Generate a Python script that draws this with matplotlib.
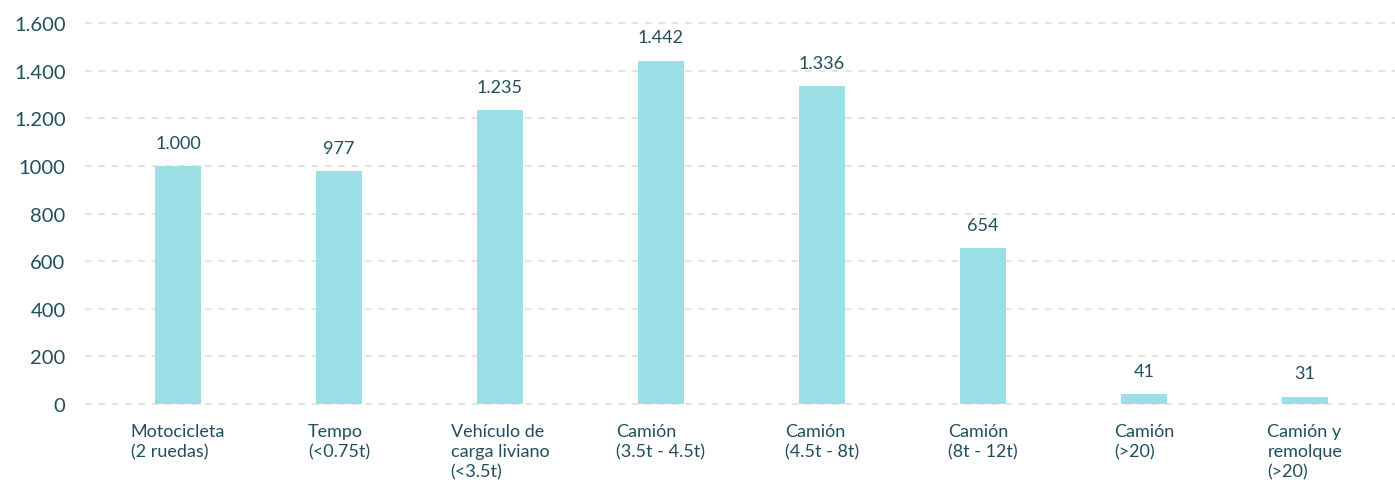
import matplotlib
matplotlib.use("Agg")
import matplotlib.pyplot as plt

categories = ["Motocicleta\n(2 ruedas)", "Tempo\n(<0.75t)", "Vehículo de\ncarga liviano\n(<3.5t)",
              "Camión\n(3.5t - 4.5t)", "Camión\n(4.5t - 8t)", "Camión\n(8t - 12t)",
              "Camión\n(>20)", "Camión y\nremolque\n(>20)"]
values = [1000, 977, 1235, 1442, 1336, 654, 41, 31]
value_labels = ["1.000", "977", "1.235", "1.442", "1.336", "654", "41", "31"]
yticks = [0, 200, 400, 600, 800, 1000, 1200, 1400, 1600]
ytick_labels = ["0", "200", "400", "600", "800", "1000", "1.200", "1.400", "1.600"]

plt.rcParams['font.family'] = ['Lato', 'DejaVu Sans']
TXT = "#1f4f5c"
BAR = "#9bdfe6"
GRID = "#e2dfda"

fig = plt.figure(figsize=(13.95, 4.81), dpi=100)
ax = fig.add_axes([85/1395, 1-407.4/481, 1-85/1395, (407.4-21.6)/481])

x = list(range(len(values)))
ax.bar(x, values, width=0.29, color=BAR, zorder=2)
for xi, v, lab in zip(x, values, value_labels):
    ax.annotate(lab, (xi, v), xytext=(0, 11), textcoords="offset points",
                ha="center", va="bottom", fontsize=13, color=TXT)

ax.set_xlim(-0.578, 7.56)
ax.set_ylim(-10, 1610)
ax.set_yticks(yticks)
ax.set_yticklabels(ytick_labels, fontsize=14.5, color=TXT)
ax.set_xticks(x)
ax.set_xticklabels(categories, fontsize=13, color=TXT, ha="center",
                   multialignment="left", va="top", linespacing=1.3)
ax.tick_params(axis="both", length=0)
ax.tick_params(axis="y", pad=14)
ax.tick_params(axis="x", pad=12)
for s in ax.spines.values():
    s.set_visible(False)
ax.yaxis.grid(True, color=GRID, linestyle=(0, (4, 4)), linewidth=1.2, zorder=0)
ax.set_axisbelow(True)

fig.savefig("out.png", dpi=100)
